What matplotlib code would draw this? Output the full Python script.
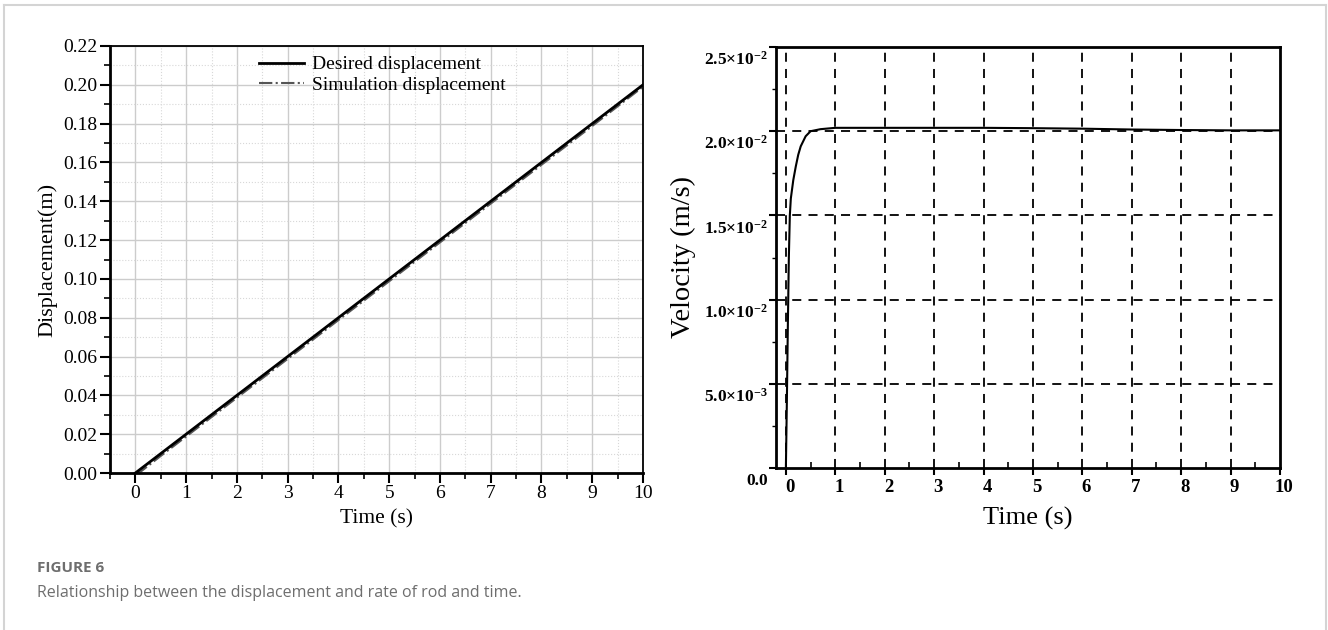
import numpy as np
import matplotlib
matplotlib.use("Agg")
import matplotlib.pyplot as plt
from matplotlib.lines import Line2D
from matplotlib.ticker import MultipleLocator
from matplotlib.transforms import ScaledTranslation

plt.rcParams['font.family'] = ['Liberation Serif', 'DejaVu Serif']
plt.rcParams['mathtext.fontset'] = 'custom'
plt.rcParams['mathtext.rm'] = 'Liberation Serif'
plt.rcParams['mathtext.bf'] = 'Liberation Serif:bold'

# left panel: displacement
t_disp = [0, 10]
desired = [0.0, 0.20]
t_sim = [0, 0.1, 0.5, 1, 2, 3, 4, 5, 6, 7, 8, 9, 10]
simulated = [0.0, 0.0006, 0.0088, 0.0188, 0.0388, 0.0588, 0.0788, 0.0988, 0.1188, 0.1388, 0.1588, 0.1788, 0.1990]

# right panel: velocity
t_vel = [0, 0.02, 0.04, 0.06, 0.08, 0.1, 0.15, 0.2, 0.25, 0.3, 0.4, 0.5, 0.7,
         1.0, 1.5, 2, 3, 4, 5, 6, 7, 8, 9, 10]
velocity = [0, 0.004, 0.0085, 0.0125, 0.0150, 0.0160, 0.0171, 0.0179, 0.0186, 0.0191,
            0.0197, 0.0200, 0.02012, 0.0202, 0.0202, 0.0202, 0.0202, 0.0202, 0.02018,
            0.02015, 0.0201, 0.02007, 0.02005, 0.02005]
vel_ticks = [0, 0.005, 0.010, 0.015, 0.020, 0.025]
vel_labels = ['0.0', r'$\mathbf{5.0{\times}10^{-3}}$', r'$\mathbf{1.0{\times}10^{-2}}$',
              r'$\mathbf{1.5{\times}10^{-2}}$', r'$\mathbf{2.0{\times}10^{-2}}$',
              r'$\mathbf{2.5{\times}10^{-2}}$']

fig = plt.figure(figsize=(13.28, 6.3), dpi=100)

# ---- left plot
ax1 = fig.add_axes([110/1328, 1-473/630, 533/1328, 427/630])
ax1.plot(t_disp, desired, color='black', lw=2, label='Desired displacement', zorder=3)
ax1.plot(t_sim, simulated, color='#555555', lw=1.5, ls='-.', label='Simulation displacement', zorder=2)
ax1.set_xlim(-0.5, 10)
ax1.set_ylim(0, 0.22)
ax1.xaxis.set_major_locator(MultipleLocator(1))
ax1.xaxis.set_minor_locator(MultipleLocator(0.5))
ax1.yaxis.set_major_locator(MultipleLocator(0.02))
ax1.yaxis.set_minor_locator(MultipleLocator(0.01))
ax1.set_xticks(range(0, 11))
ax1.set_yticklabels(['%.2f' % v for v in ax1.get_yticks()])
ax1.grid(which='major', color='#cccccc', lw=1.0)
ax1.grid(which='minor', color='#d8d8d8', lw=0.8, ls=':')
ax1.set_axisbelow(True)
ax1.tick_params(which='major', direction='out', length=7, width=1.5, labelsize=14, pad=2)
ax1.tick_params(which='minor', direction='out', length=4, width=1.2)
for s in ['left', 'bottom']:
    ax1.spines[s].set_linewidth(2)
for s in ['top', 'right']:
    ax1.spines[s].set_linewidth(1.3)
ax1.set_xlabel('Time (s)', fontsize=15.5, labelpad=5)
ax1.set_ylabel('Displacement(m)', fontsize=16, labelpad=4)
ax1.legend(loc='upper left', bbox_to_anchor=(0.262, 1.0), frameon=False, fontsize=14,
           handlelength=2.3, handletextpad=0.4, labelspacing=0.15, borderaxespad=0.1)

# ---- right plot
ax2 = fig.add_axes([776/1328, 1-468/630, 504/1328, 421/630])
ax2.plot(t_vel, velocity, color='black', lw=1.5, zorder=3)
ax2.set_xlim(-0.2, 10)
ax2.set_ylim(0, 0.025)
ax2.set_xticks(range(0, 11))
ax2.xaxis.set_minor_locator(MultipleLocator(0.5))
ax2.set_yticks(vel_ticks)
ax2.set_yticklabels(vel_labels)
ax2.yaxis.set_minor_locator(MultipleLocator(0.0025))
for x in range(0, 10):
    ax2.axvline(x, color='black', lw=1.3, ls=(0, (5, 4)), zorder=1)
for y in vel_ticks[1:-1]:
    ax2.axhline(y, color='black', lw=1.3, ls=(0, (5, 4)), zorder=1)
ax2.tick_params(axis='x', which='major', direction='out', length=5, width=1.5, labelsize=13.5, pad=3)
ax2.tick_params(axis='y', which='major', direction='out', length=5, width=1.5, labelsize=12.5, pad=1)
ax2.tick_params(axis='x', which='minor', direction='in', length=4, width=1.2)
ax2.tick_params(axis='y', which='minor', direction='out', length=3, width=1.0)
for lab in ax2.get_xticklabels():
    lab.set_fontweight('bold')
    lab.set_transform(lab.get_transform() + ScaledTranslation(0.04, 0, fig.dpi_scale_trans))
for lab in ax2.get_yticklabels():
    lab.set_fontweight('bold')
    lab.set_transform(lab.get_transform() + ScaledTranslation(0, -0.11, fig.dpi_scale_trans))
for s in ax2.spines.values():
    s.set_linewidth(2)
ax2.set_xlabel('Time (s)', fontsize=19, labelpad=8)
ax2.set_ylabel('Velocity (m/s)', fontsize=20.5, labelpad=6)

# card border and caption
fig.add_artist(Line2D([4/1328, 1326/1328], [1-5/630, 1-5/630], color='#d4d4d4', lw=1.5))
fig.add_artist(Line2D([4/1328, 4/1328], [0, 1-5/630], color='#d4d4d4', lw=1.5))
fig.add_artist(Line2D([1326/1328, 1326/1328], [0, 1-5/630], color='#d4d4d4', lw=1.5))
fig.text(37/1328, 1-568/630, 'FIGURE 6', fontsize=11, color='#6e6e6e', fontweight='bold',
         family=['Open Sans', 'DejaVu Sans'], va='center')
fig.text(37/1328, 1-593/630, 'Relationship between the displacement and rate of rod and time.',
         fontsize=11.5, color='#6e6e6e', family=['Open Sans', 'DejaVu Sans'], va='center')

fig.savefig('out.png', dpi=100)
